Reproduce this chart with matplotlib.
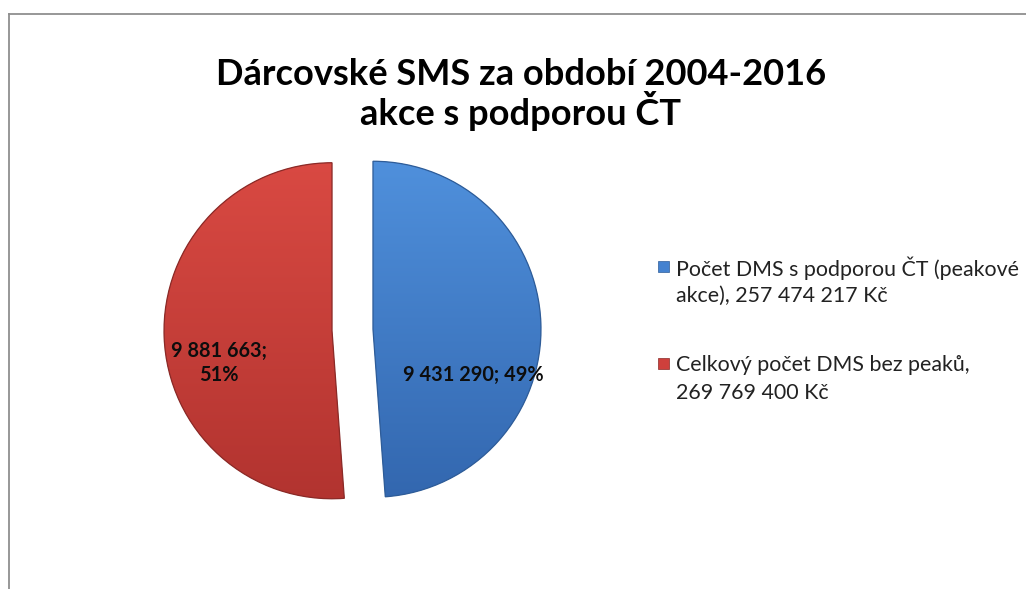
import matplotlib
matplotlib.use("Agg")
import matplotlib.pyplot as plt
from matplotlib.patches import Rectangle
from matplotlib.lines import Line2D
import numpy as np

# ---------------- data ----------------
title_lines = ["Dárcovské SMS za období 2004-2016", "akce s podporou ČT"]
categories = ["Počet DMS s podporou ČT (peakové\nakce), 257 474 217 Kč",
              "Celkový počet DMS bez peaků,\n269 769 400 Kč"]
counts = [9431290, 9881663]
colors = ["#4482D0", "#CE403C"]
light = ["#5091DD", "#DA4A43"]
dark = ["#3266AE", "#B1332F"]
edges = ["#2E5C98", "#8A2A27"]

W, H, DPI = 1026, 589, 100
FONT = "Lato"
fig = plt.figure(figsize=(W / DPI, H / DPI), dpi=DPI)
fig.patch.set_facecolor("white")
ax = fig.add_axes([0, 0, 1, 1])

R = 168.0            # pie radius in px
cx, cy = 352.5, 330  # pie centre, px from top-left
explode = [0.122, 0.122]

wedges, _ = ax.pie(counts, colors=colors, startangle=90, counterclock=False,
                   explode=explode, radius=1,
                   wedgeprops=dict(edgecolor="none", linewidth=0))
ax.set_xlim(-cx / R, (W - cx) / R)
ax.set_ylim(-(H - cy) / R, cy / R)
ax.set_aspect("equal", adjustable="box")
ax.axis("off")

# gradient shading clipped to each wedge
for w, lc, dc, ec in zip(wedges, light, dark, edges):
    cxw, cyw = w.center
    n = 256
    t = np.linspace(0, 1, n)[:, None]
    c1 = np.array(matplotlib.colors.to_rgb(lc))
    c2 = np.array(matplotlib.colors.to_rgb(dc))
    img = (c1 * (1 - t) + c2 * t)[:, None, :] * np.ones((1, 4, 1))
    im = ax.imshow(img, extent=(cxw - 1.05, cxw + 1.05, cyw - 1.05, cyw + 1.05),
                   origin="upper", aspect="auto", zorder=1.5, interpolation="bilinear")
    im.set_clip_path(w)
    w.set_zorder(1)
    outline = matplotlib.patches.Wedge((cxw, cyw), w.r, w.theta1, w.theta2,
                                       facecolor="none", edgecolor=ec, linewidth=0.9,
                                       zorder=2)
    ax.add_patch(outline)
ax.set_xlim(-cx / R, (W - cx) / R)
ax.set_ylim(-(H - cy) / R, cy / R)

renderer = fig.canvas.get_renderer()


def fit_size(txt, target_px, weight="normal"):
    t = fig.text(0, 0, txt, fontsize=10, family=FONT, fontweight=weight)
    wpx = t.get_window_extent(renderer).width
    t.remove()
    return 10 * target_px / wpx


def px(x, y):
    return x / W, 1 - y / H


# title
tsize = fit_size(title_lines[0], 612, "bold")
for line, base in zip(title_lines, [85, 125]):
    fig.text(*px(521, base), line, ha="center", va="baseline", fontsize=tsize,
             family=FONT, fontweight="bold", color="black")

# data labels
total = sum(counts)
pcts = [round(100 * c / total) for c in counts]
fmt = lambda v: f"{v:,}".replace(",", " ")
lab_size = fit_size(f"{fmt(counts[0])}; {pcts[0]}%", 140, "bold")
label_pos = [(0.717, -0.268), (-0.795, -0.196)]
label_txt = [f"{fmt(counts[0])}; {pcts[0]}%", f"{fmt(counts[1])};\n{pcts[1]}%"]
for (lx, ly), txt in zip(label_pos, label_txt):
    ax.text(lx, ly, txt, ha="center", va="center", fontsize=lab_size,
            fontweight="bold", family=FONT, color="#0d0d0d", zorder=5,
            linespacing=1.25, multialignment="center")

# legend (manual)
leg_size = fit_size(categories[0].split("\n")[0], 344)
line_h = 28.0
for i, (lab, col) in enumerate(zip(categories, colors)):
    y0 = 266 + i * 97
    ax.add_patch(Rectangle(((658 - cx) / R, (cy - y0 - 5.5) / R), 11 / R, 11 / R,
                           facecolor=col, edgecolor=edges[i], linewidth=0.5,
                           zorder=3))
    for j, ln in enumerate(lab.split("\n")):
        fig.text(*px(676, y0 + j * line_h), ln, ha="left", va="center_baseline",
                 fontsize=leg_size, family=FONT, color="#222222")

# chart frame (partially visible)
fig.add_artist(Line2D([8.5 / W, 1], [1 - 13.5 / H, 1 - 13.5 / H],
                      transform=fig.transFigure, color="#8f8f8f", linewidth=1.3))
fig.add_artist(Line2D([8.5 / W, 8.5 / W], [0, 1 - 13.5 / H],
                      transform=fig.transFigure, color="#8f8f8f", linewidth=1.3))

fig.savefig("out.png", dpi=DPI, facecolor="white")
